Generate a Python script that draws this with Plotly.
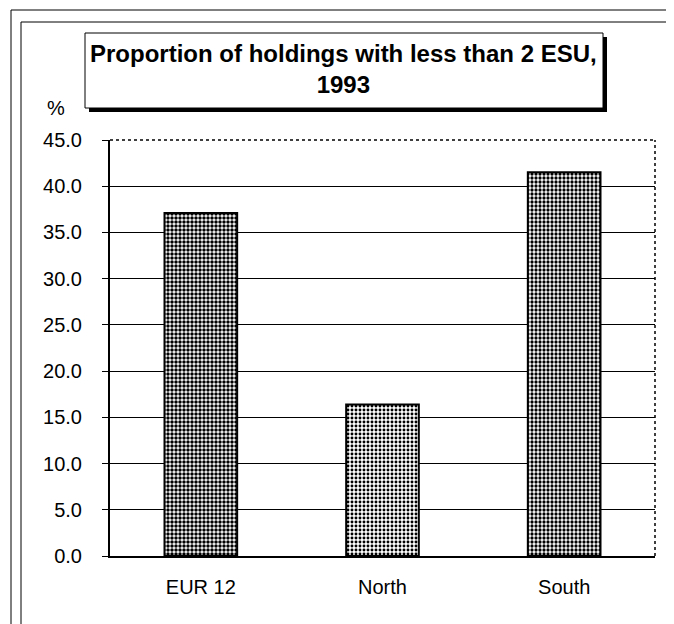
import plotly.graph_objects as go

categories = ["EUR 12", "North", "South"]
values = [37.1, 16.4, 41.5]
tick_vals = [0, 5, 10, 15, 20, 25, 30, 35, 40, 45]
tick_text = ["0.0", "5.0", "10.0", "15.0", "20.0", "25.0", "30.0", "35.0", "40.0", "45.0"]
solidities = [0.6, 0.42, 0.52]

OFF = 8  # page body margin
W, H = 674 - OFF, 624 - OFF
L, R, T, B = 110 - OFF, 655 - OFF, 140 - OFF, 556 - OFF


def px(x):
    return (x - OFF - L) / (R - L)


def py(y):
    return (B - (y - OFF)) / (B - T)


FONT = "Arial, Liberation Sans, sans-serif"

fig = go.Figure(go.Bar(
    x=categories, y=values,
    marker=dict(
        color="white",
        line=dict(color="black", width=2),
        pattern=dict(shape=".", fgcolor="black", bgcolor="white", size=4,
                     solidity=solidities, fillmode="replace"),
    ),
    width=0.4,
))

shapes = []
# outer & inner frames
for (x0, y0, x1, w) in [(11, 10, 673, 1), (21, 22, 667, 1)]:
    shapes.append(dict(type="line", xref="paper", yref="paper", x0=px(x0), x1=px(x0), y0=py(y0), y1=py(640), line=dict(color="black", width=w)))
    shapes.append(dict(type="line", xref="paper", yref="paper", x0=px(x0), x1=px(x1), y0=py(y0), y1=py(y0), line=dict(color="black", width=w)))
    shapes.append(dict(type="line", xref="paper", yref="paper", x0=px(x1), x1=px(x1), y0=py(y0), y1=py(640), line=dict(color="black", width=w)))
# title box shadow and box
shapes.append(dict(type="rect", xref="paper", yref="paper", x0=px(89), x1=px(607), y0=py(112), y1=py(37), fillcolor="black", line=dict(width=0)))
shapes.append(dict(type="rect", xref="paper", yref="paper", x0=px(85), x1=px(603), y0=py(108), y1=py(33), fillcolor="white", line=dict(color="black", width=1)))
# dotted top/right border of plot
shapes.append(dict(type="line", xref="paper", yref="paper", x0=0, x1=1, y0=1, y1=1, line=dict(color="white", width=3), layer="above"))
shapes.append(dict(type="line", xref="paper", yref="paper", x0=0, x1=1, y0=1, y1=1, line=dict(color="black", width=1.5, dash="dot"), layer="above"))
shapes.append(dict(type="line", xref="paper", yref="paper", x0=1, x1=1, y0=0, y1=1, line=dict(color="black", width=1.5, dash="dot"), layer="above"))

fig.update_layout(
    width=W, height=H,
    margin=dict(l=L, r=W - R, t=T, b=H - B, pad=0),
    paper_bgcolor="white", plot_bgcolor="white",
    showlegend=False,
    font=dict(family=FONT, size=20, color="black"),
    shapes=shapes,
    annotations=[
        dict(text="<b>Proportion of holdings with less than 2 ESU,</b><br><b>1993</b>",
             xref="paper", yref="paper", x=px(343), y=py(69), xanchor="center", yanchor="middle",
             showarrow=False, font=dict(family=FONT, size=24, color="black"), align="center"),
        dict(text="%", xref="paper", yref="paper", x=px(56), y=py(108), xanchor="center", yanchor="middle",
             showarrow=False, font=dict(family=FONT, size=20, color="black")),
    ],
    bargap=0.6,
)
fig.update_xaxes(showline=True, linecolor="black", linewidth=2, ticks="", showgrid=False,
                 ticklabelstandoff=12, tickfont=dict(size=20))
fig.update_yaxes(range=[0, 45], tickvals=tick_vals, ticktext=tick_text, showline=True,
                 linecolor="black", linewidth=2, ticks="outside", ticklen=6, tickcolor="black",
                 showgrid=True, gridcolor="black", gridwidth=1, zeroline=False,
                 ticklabelstandoff=16, tickfont=dict(size=20))

fig.write_html("out.html")
